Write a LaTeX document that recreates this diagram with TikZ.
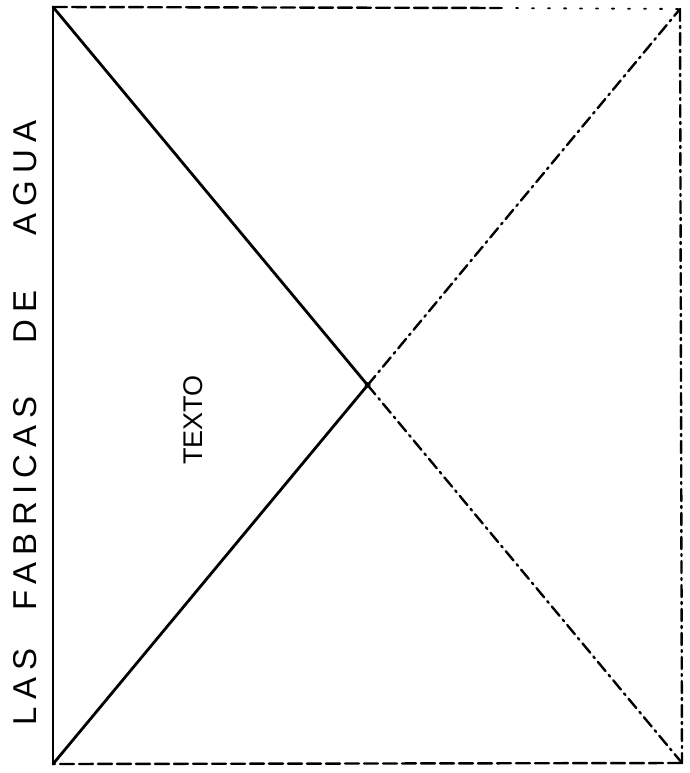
\documentclass[tikz,border=0pt]{standalone}
\usepackage{fontspec}
\setmainfont{Liberation Sans}
\usetikzlibrary{positioning}

\begin{document}
\begin{tikzpicture}[x=1pt, y=1pt, line cap=round,
        frameline/.style={line width=2.8pt},
        dashline/.style={line width=2.4pt, dash pattern=on 14pt off 5pt},
        dotline/.style={line width=1.8pt, dash pattern=on 2pt off 14pt},
        chainline/.style={line width=2.4pt, dash pattern=on 12pt off 5pt on 2pt off 5pt},
        lettering/.style={rotate=90, inner sep=0pt, font=\fontsize{33}{33}\selectfont\addfontfeature{LetterSpace=22}},
        smalllettering/.style={rotate=90, inner sep=0pt, font=\fontsize{27}{27}\selectfont}]
        \fill [white] (0,0) rectangle (689,-773);
        % corners of the sheet
        \coordinate (tl) at (53,-7);
        \coordinate (tr) at (680,-9);
        \coordinate (br) at (682,-763);
        \coordinate (bl) at (53,-764);
        \coordinate (mid) at (intersection of tl--br and bl--tr);
        \coordinate (topdash) at (500,-8);

        % frame
        \draw [frameline] (bl) -- (tl);
        \draw [dashline] (tl) -- (topdash);
        \draw [dotline] (topdash) -- (tr);
        \draw [chainline] (tr) -- (br);
        \draw [dashline] (br) -- (bl);

        % diagonals
        \draw [frameline] (tl) -- (mid);
        \draw [chainline] (mid) -- (br);
        \draw [frameline] (bl) -- (mid);
        \draw [chainline] (mid) -- (tr);
        \fill (mid) circle (3pt);

        % title along the left side
        \node [lettering] (las) at (25,-687) {LAS};
        \node [lettering] (fabricas) at (25,-503) {FABRICAS};
        \node [lettering] (de) at (25,-317) {DE};
        \node [lettering] (agua) at (25,-178) {AGUA};
        \node [smalllettering] (texto) at (193,-420) {TEXTO};
    \end{tikzpicture}
\end{document}
